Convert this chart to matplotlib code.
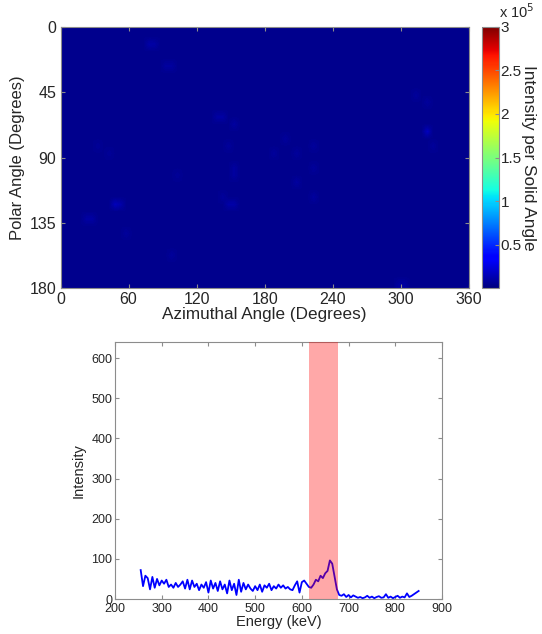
import numpy as np
import matplotlib
matplotlib.use("Agg")
import matplotlib.pyplot as plt

plt.rcParams['font.family'] = ['Liberation Sans', 'DejaVu Sans']

# ---------------- data: angular map ----------------
cell_deg = 5  # degrees per cell
background_level = 4500
spot_az = [77.5, 82.5, 92.5, 97.5, 312.5, 322.5, 322.5, 137.5, 142.5, 152.5,
           197.5, 147.5, 222.5, 327.5, 32.5, 42.5, 187.5, 207.5, 152.5, 152.5,
           102.5, 222.5, 207.5, 142.5, 222.5, 47.5, 52.5, 147.5, 152.5, 22.5,
           27.5, 57.5, 97.5, 297.5, 302.5]
spot_pol = [12.5, 12.5, 27.5, 27.5, 47.5, 52.5, 72.5, 62.5, 62.5, 67.5,
            77.5, 82.5, 82.5, 82.5, 82.5, 87.5, 87.5, 87.5, 97.5, 102.5,
            102.5, 97.5, 107.5, 117.5, 117.5, 122.5, 122.5, 122.5, 122.5, 132.5,
            132.5, 142.5, 157.5, 177.5, 177.5]
spot_val = [11000, 10000, 9000, 9000, 8000, 8000, 17000, 10000, 10000, 9000,
            8000, 8000, 8000, 8000, 7000, 7000, 8000, 8000, 9000, 9000,
            7000, 8000, 9000, 8000, 9000, 16000, 12000, 11000, 11000, 10000,
            10000, 8000, 8000, 9000, 9000]

cbar_ticks = [0.5e5, 1e5, 1.5e5, 2e5, 2.5e5, 3e5]
cbar_labels = ['0.5', '1', '1.5', '2', '2.5', '3']

# ---------------- data: energy spectrum ----------------
energy = np.arange(255, 851, 5)
intensity = [72, 32, 58, 52, 24, 55, 28, 50, 34, 46,
             38, 48, 30, 36, 28, 40, 30, 36, 44, 26, 48, 24, 46, 30, 38, 22, 36, 28, 42, 16,
             46, 26, 40, 20, 44, 24, 36, 14, 46, 22, 38, 10, 48, 18, 40, 24, 36, 26, 20, 32,
             22, 36, 18, 34, 28, 38, 22, 32, 26, 36, 28, 34, 26, 30, 24, 22, 34, 44, 16, 42,
             46, 38, 30, 28, 36, 48, 44, 58, 52, 64, 70, 96, 88, 56, 24, 10,
             8, 12, 5, 10, 4, 9, 6, 3, 5, 2, 4, 8, 3, 6, 2, 5, 7, 3, 4, 12, 3, 6, 2, 5, 8,
             3, 6, 4, 14, 5, 8, 12, 16, 20]
window = (615, 678)

# ---------------- figure ----------------
W, H = 542, 634
fig = plt.figure(figsize=(W / 100, H / 100), dpi=100)

frame_col = '#8c8c8c'
text_col = '#262626'

# heatmap
n_pol, n_az = 180 // cell_deg, 360 // cell_deg
grid = np.full((n_pol, n_az), float(background_level))
for a, p, v in zip(spot_az, spot_pol, spot_val):
    grid[int(p // cell_deg), int(a // cell_deg)] = v

ax1 = fig.add_axes([60.5 / W, 1 - 288.3 / H, 408.5 / W, 261.6 / H])
im = ax1.imshow(grid, cmap='jet', vmin=0, vmax=3e5, extent=[0, 360, 180, 0],
                aspect='auto', interpolation='bilinear')
ax1.set_xlim(0, 360)
ax1.set_ylim(180, 0)
ax1.set_xticks([0, 60, 120, 180, 240, 300, 360])
ax1.set_yticks([0, 45, 90, 135, 180])
ax1.tick_params(direction='in', top=True, right=True, length=3, labelsize=11.5,
                colors=frame_col, labelcolor=text_col, pad=3)
ax1.set_xlabel('Azimuthal Angle (Degrees)', fontsize=12.3, color=text_col, labelpad=0)
ax1.set_ylabel('Polar Angle (Degrees)', fontsize=12, color=text_col, labelpad=3)
for s in ax1.spines.values():
    s.set_color(frame_col)

cax = fig.add_axes([482.3 / W, 1 - 288.3 / H, 17 / W, 261.6 / H])
cb = fig.colorbar(im, cax=cax)
cb.set_ticks(cbar_ticks)
cb.set_ticklabels(cbar_labels)
cax.tick_params(direction='in', length=3, labelsize=11, colors=frame_col,
                labelcolor=text_col, pad=1)
cb.outline.set_edgecolor(frame_col)
cb.set_label('Intensity per Solid Angle', rotation=270, fontsize=12.4,
             color=text_col, labelpad=10)
fig.text(499 / W, 1 - 18.5 / H, r'x 10$^{5}$', fontsize=10.5, color=text_col,
         ha='left', va='baseline')

# spectrum
ax2 = fig.add_axes([115 / W, 1 - 599 / H, 327 / W, 257 / H])
ax2.plot(energy, intensity, color='#0000ff', lw=1.3, zorder=2)
ax2.axvspan(window[0], window[1], color='#ff0000', alpha=0.34, lw=0, zorder=3)
ax2.set_xlim(200, 900)
ax2.set_ylim(0, 640)
ax2.set_xticks(range(200, 901, 100))
ax2.set_yticks(range(0, 601, 100))
ax2.tick_params(direction='in', top=True, right=True, length=3, labelsize=9,
                colors=frame_col, labelcolor=text_col, pad=2)
ax2.tick_params(axis='x', pad=3)
ax2.set_xlabel('Energy (keV)', fontsize=10.5, color=text_col, labelpad=0)
ax2.set_ylabel('Intensity', fontsize=10.5, color=text_col, labelpad=4)
for s in ax2.spines.values():
    s.set_color(frame_col)

fig.savefig('out.png', dpi=100)
